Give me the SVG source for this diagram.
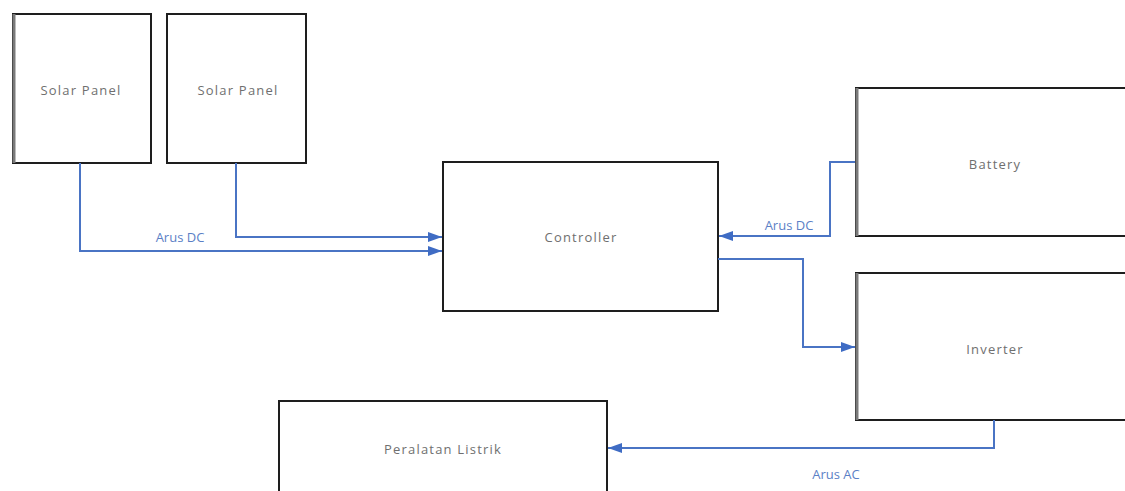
<svg xmlns="http://www.w3.org/2000/svg" width="1125" height="491" viewBox="0 0 1125 491">
  <style>
    .box { fill: #ffffff; stroke: #1e1e1e; stroke-width: 2; }
    .edge { stroke: #7a7a7a; stroke-width: 3; fill: none; }
    .label { font-family: "Open Sans", "Liberation Sans", sans-serif; font-size: 13px; fill: #6f6f6f; text-anchor: middle; letter-spacing: 1.2px; }
    .wire { fill: none; stroke: #4a74c4; stroke-width: 2; }
    .tag { font-family: "Open Sans", "Liberation Sans", sans-serif; font-size: 13px; fill: #5b7fc6; text-anchor: middle; }
  </style>
  <defs>
    <marker id="arrow" viewBox="0 0 14 10" refX="14" refY="5" markerWidth="14" markerHeight="10" markerUnits="userSpaceOnUse" orient="auto">
      <path d="M0,0 L14,5 L0,10 z" fill="#3f6cc4"/>
    </marker>
  </defs>
  <rect width="1125" height="491" fill="#ffffff"/>

  <g id="solar-panel-1">
    <rect class="box" x="13" y="14" width="138" height="149"/>
    <line class="edge" x1="14" y1="14" x2="14" y2="163"/>
    <text class="label" x="81" y="95">Solar Panel</text>
  </g>
  <g id="solar-panel-2">
    <rect class="box" x="167" y="14" width="139" height="149"/>
    <text class="label" x="238" y="95">Solar Panel</text>
  </g>
  <g id="controller">
    <rect class="box" x="443" y="162" width="275" height="149"/>
    <text class="label" x="581" y="242">Controller</text>
  </g>
  <g id="battery">
    <rect class="box" x="856" y="88" width="280" height="148"/>
    <line class="edge" x1="857" y1="88" x2="857" y2="236"/>
    <text class="label" x="995" y="169">Battery</text>
  </g>
  <g id="inverter">
    <rect class="box" x="856" y="273" width="280" height="147"/>
    <line class="edge" x1="857" y1="273" x2="857" y2="420"/>
    <text class="label" x="995" y="354">Inverter</text>
  </g>
  <g id="peralatan-listrik">
    <rect class="box" x="279" y="401" width="328" height="100"/>
    <text class="label" x="443" y="454">Peralatan Listrik</text>
  </g>

  <g id="connectors">
    <polyline class="wire" points="80,163 80,251 442,251" marker-end="url(#arrow)"/>
    <polyline class="wire" points="236,163 236,237 442,237" marker-end="url(#arrow)"/>
    <polyline class="wire" points="855,162 830,162 830,236 719,236" marker-end="url(#arrow)"/>
    <polyline class="wire" points="718,259 803,259 803,347 855,347" marker-end="url(#arrow)"/>
    <polyline class="wire" points="994,420 994,448 608,448" marker-end="url(#arrow)"/>
    <text class="tag" x="180" y="242">Arus DC</text>
    <text class="tag" x="789" y="230">Arus DC</text>
    <text class="tag" x="836" y="479">Arus AC</text>
  </g>
</svg>
